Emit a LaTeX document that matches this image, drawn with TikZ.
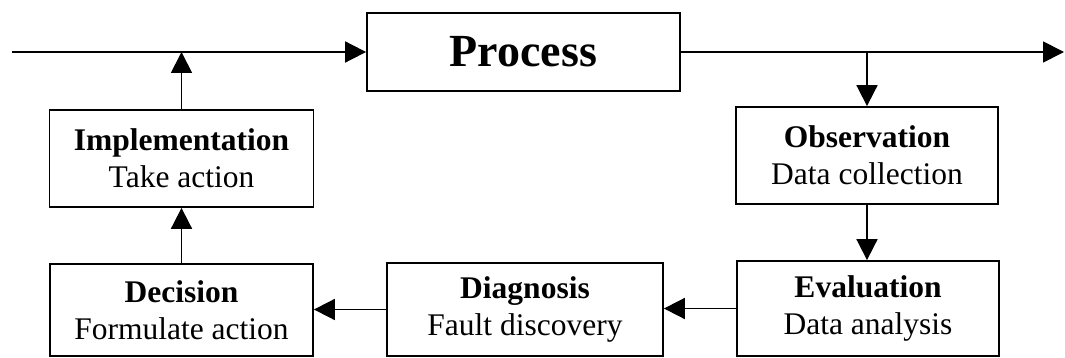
\documentclass[tikz,border=0pt]{standalone}
\usepackage{fontspec}
\setmainfont{Liberation Serif}
\usetikzlibrary{arrows.meta}
\begin{document}
\begin{tikzpicture}[x=1pt,y=-1pt,
  box/.style={draw,line width=1.8pt,inner sep=0pt,align=center,
    font=\fontsize{31.5}{37}\selectfont},
  conn/.style={line width=1.8pt,-{Triangle[length=21pt,width=21pt]}}]
\useasboundingbox (0,0) rectangle (1065,358);
\node[box,minimum width=313pt,minimum height=78pt,font=\fontsize{46}{50}\selectfont\bfseries] (proc) at (523.5,52) {Process};
\node[box,minimum width=264pt,minimum height=97pt] (impl) at (181.5,158.5) {\textbf{Implementation}\\Take action};
\node[box,minimum width=262pt,minimum height=97pt] (obs) at (867,155.5) {\textbf{Observation}\\Data collection};
\node[box,minimum width=262pt,minimum height=95pt] (eval) at (868,308.5) {\textbf{Evaluation}\\Data analysis};
\node[box,minimum width=276pt,minimum height=93pt] (diag) at (525,309.5) {\textbf{Diagnosis}\\Fault discovery};
\node[box,minimum width=263pt,minimum height=92pt] (dec) at (181.5,310) {\textbf{Decision}\\Formulate action};
\coordinate (in) at (12,52);
\coordinate (out) at (1064,52);
\draw[conn] (in) -- (proc.west);
\draw[conn] (proc.east) -- (out);
\draw[conn] (impl.north) -- (impl.north |- proc.west);
\draw[conn] (obs.north |- proc.east) -- (obs.north);
\draw[conn] (obs.south) -- (obs.south |- eval.north);
\draw[conn] (eval.west) -- (eval.west -| diag.east);
\draw[conn] (diag.west) -- (diag.west -| dec.east);
\draw[conn] (dec.north) -- (impl.south);
\end{tikzpicture}
\end{document}
